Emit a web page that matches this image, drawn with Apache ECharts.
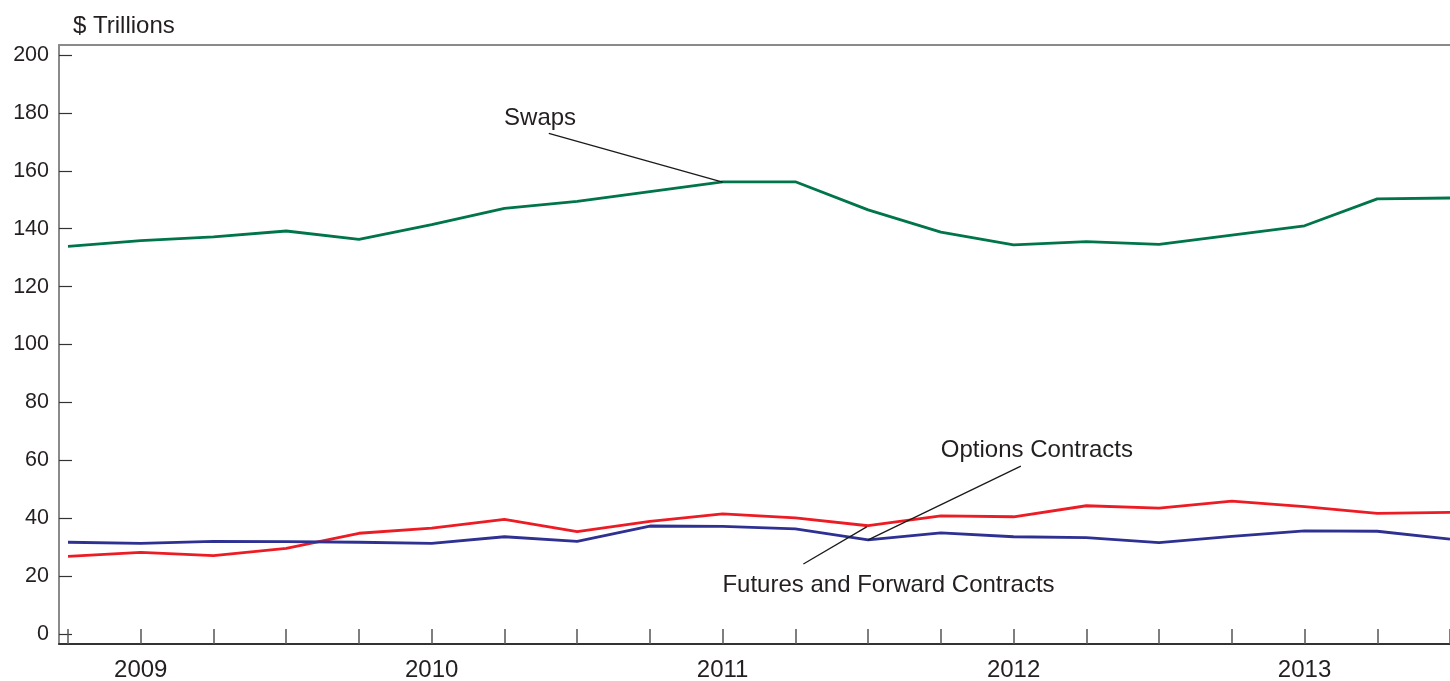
<!DOCTYPE html>
<html lang="en">

<head>
    <meta charset="UTF-8">
    <title>derivatives</title>
    <style>
        html, body { margin: 0; padding: 0; background: #fff; }
        #chart { width: 1450px; height: 681px; }
    </style>
    <script src="https://cdn.jsdelivr.net/npm/echarts@6/dist/echarts.min.js"></script>
</head>

<body>
    <div id="chart"></div>
    <script>
        // quarterly, 2008 Q4 .. 2013 Q3
        var quarters = ['2008Q4', '2009Q1', '2009Q2', '2009Q3', '2009Q4', '2010Q1', '2010Q2', '2010Q3', '2010Q4',
            '2011Q1', '2011Q2', '2011Q3', '2011Q4', '2012Q1', '2012Q2', '2012Q3', '2012Q4', '2013Q1', '2013Q2', '2013Q3'];
        var swaps = [133.9, 135.9, 137.2, 139.2, 136.3, 141.4, 147.0, 149.4, 152.8, 156.2,
            156.2, 146.5, 138.8, 134.4, 135.5, 134.6, 137.8, 141.0, 150.3, 150.6];
        var options = [26.8, 28.2, 27.1, 29.6, 34.8, 36.6, 39.6, 35.4, 38.9, 41.5,
            40.1, 37.4, 40.8, 40.5, 44.3, 43.5, 45.9, 44.0, 41.7, 42.0];
        var futures = [31.7, 31.3, 32.0, 31.9, 31.7, 31.3, 33.6, 32.0, 37.3, 37.2,
            36.3, 32.5, 34.9, 33.6, 33.3, 31.6, 33.7, 35.6, 35.5, 32.8];
        var yTicks = [0, 20, 40, 60, 80, 100, 120, 140, 160, 180, 200];
        var yearLabelIdx = [1, 5, 9, 13, 17];

        // annotation text and leader lines, in data coordinates [quarter index, value]
        var notes = [
            { text: 'Swaps', at: [6.49, 178.2] },
            { text: 'Options Contracts', at: [13.32, 63.6] },
            { text: 'Futures and Forward Contracts', at: [11.28, 16.9] }
        ];
        var leaders = [
            [[6.61, 172.9], [9, 156.1]],
            [[13.1, 58.0], [11, 32.5]],
            [[10.11, 24.2], [10.98, 37.0]]
        ];

        var tickIdx = quarters.map(function (q, i) { return i; });
        function pairs(arr) { return arr.map(function (v, i) { return [i, v]; }); }
        var txt = '#231f20';
        var font = 'Liberation Sans, Arial, sans-serif';
        var fs = 24;

        var myChart = echarts.init(document.getElementById('chart'));
        var option = {
            animation: false,
            backgroundColor: '#fff',
            textStyle: { fontFamily: font },
            title: {
                text: '$ Trillions',
                left: 68,
                top: 9,
                textStyle: { fontSize: fs, fontWeight: 'normal', color: txt, fontFamily: font }
            },
            grid: { left: 59, right: 0, top: 45, bottom: 37, containLabel: false, outerBoundsMode: 'none' },
            xAxis: [{
                type: 'value',
                min: -0.124,
                max: 19,
                splitLine: { show: false },
                axisLine: { onZero: false, lineStyle: { color: '#333', width: 2 } },
                axisTick: { inside: true, length: 15, customValues: tickIdx, lineStyle: { color: '#555', width: 1.5 } },
                axisLabel: {
                    customValues: yearLabelIdx,
                    formatter: function (v) { return quarters[Math.round(v)].slice(0, 4); },
                    fontSize: fs, color: txt, margin: 14, fontFamily: font
                }
            }, {
                type: 'value',
                position: 'top',
                min: -0.124,
                max: 19,
                splitLine: { show: false },
                axisLine: { onZero: false, lineStyle: { color: '#8a8a8a', width: 2 } },
                axisTick: { show: false },
                axisLabel: { show: false }
            }],
            yAxis: {
                type: 'value',
                min: -3.45,
                max: 203.45,
                splitLine: { show: false },
                axisLine: { show: true, onZero: false, lineStyle: { color: '#8a8a8a', width: 2 } },
                axisTick: { inside: true, length: 13, customValues: yTicks, lineStyle: { color: '#333', width: 1.2 } },
                axisLabel: { customValues: yTicks, fontSize: 21.5, color: txt, margin: 10, fontFamily: font }
            },
            series: [{
                name: 'Swaps', type: 'line', data: pairs(swaps), symbol: 'none',
                lineStyle: { color: '#00754a', width: 2.8 }, z: 3,
                markLine: {
                    silent: true, symbol: 'none', label: { show: false },
                    lineStyle: { color: '#1a1a1a', width: 1.3, type: 'solid' },
                    data: leaders.map(function (l) { return [{ coord: l[0] }, { coord: l[1] }]; })
                }
            }, {
                name: 'Options Contracts', type: 'line', data: pairs(options), symbol: 'none',
                lineStyle: { color: '#ed1c24', width: 2.8 }, z: 3
            }, {
                name: 'Futures and Forward Contracts', type: 'line', data: pairs(futures), symbol: 'none',
                lineStyle: { color: '#2e3192', width: 2.8 }, z: 3
            }]
        };
        myChart.setOption(option);

        myChart.setOption({
            graphic: notes.map(function (n) {
                var p = myChart.convertToPixel({ gridIndex: 0 }, n.at);
                return {
                    type: 'text', x: p[0], y: p[1], z: 10,
                    style: { text: n.text, fontSize: fs, fill: txt, fontFamily: font, align: 'center', verticalAlign: 'middle' }
                };
            })
        });
    </script>
</body>

</html>
